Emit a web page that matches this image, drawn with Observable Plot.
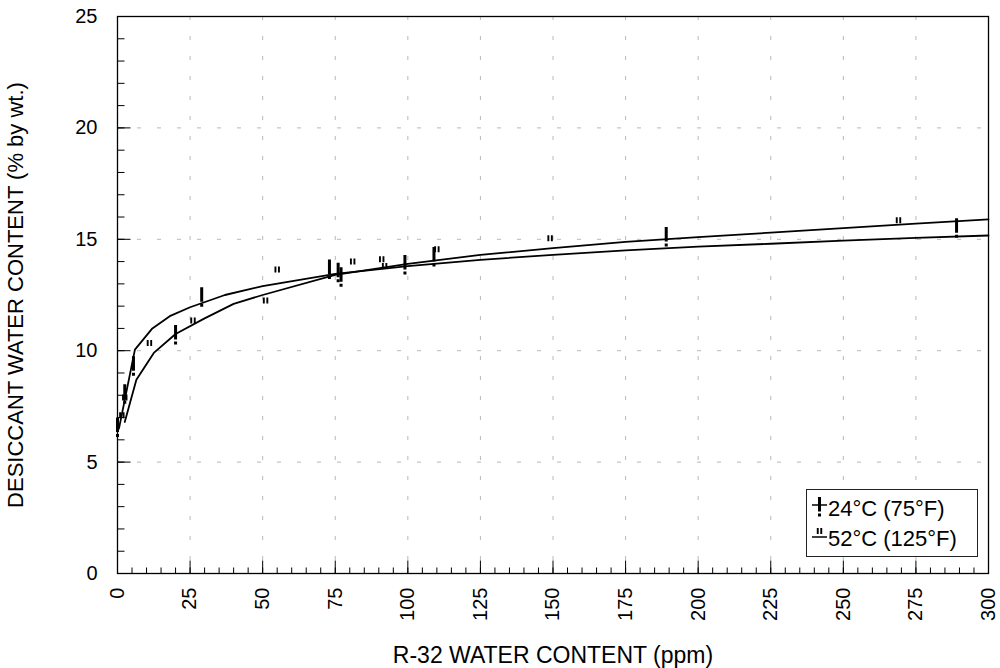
<!DOCTYPE html>
<html><head><meta charset="utf-8">
<script src="https://cdn.jsdelivr.net/npm/d3@7"></script>
<script src="https://cdn.jsdelivr.net/npm/@observablehq/plot@0.6"></script>
<style>
body{margin:0;background:#fff;font-family:"Liberation Sans",Arial,sans-serif;}
#wrap{position:relative;width:1000px;height:668px;}
#legend{position:absolute;left:806px;top:489px;}
</style></head><body><div id="wrap"></div>
<script>
// Measured points, 24°C (75°F)
const x24 = [0, 2.5, 5.5, 20, 29, 73, 76, 77, 99, 109, 189, 289];
const y24 = [6.55, 8.05, 9.3, 10.7, 12.4, 13.65, 13.5, 13.3, 13.85, 14.2, 15.1, 15.5];
// Measured points, 52°C (125°F)
const x52 = [1.5, 2.5, 11, 26, 51, 55, 81, 91, 92, 110, 149, 269];
const y52 = [7.1, 7.9, 10.35, 11.35, 12.25, 13.65, 14.0, 14.1, 13.8, 14.55, 15.05, 15.85];
// Fitted curves
const fitX24 = [0.5, 6, 12, 18, 25, 37, 50, 75, 100, 125, 150, 175, 200, 225, 250, 275, 300];
const fitY24 = [6.5, 10.05, 11.0, 11.55, 11.95, 12.5, 12.9, 13.45, 13.8, 14.08, 14.3, 14.5, 14.67, 14.8, 14.94, 15.06, 15.17];
const fitX52 = [2.5, 6.5, 12.5, 20, 30, 40, 50, 75, 100, 125, 150, 175, 200, 225, 250, 275, 300];
const fitY52 = [6.8, 8.7, 9.9, 10.75, 11.45, 12.1, 12.5, 13.4, 13.9, 14.3, 14.6, 14.88, 15.1, 15.3, 15.5, 15.7, 15.89];
// Ticks
const xMajor = [0, 25, 50, 75, 100, 125, 150, 175, 200, 225, 250, 275, 300];
const yMajor = [0, 5, 10, 15, 20, 25];
const xMinor = d3.range(0, 301, 5);
const yMinor = d3.range(0, 26, 1);
const legendLabels = ["24°C (75°F)", "52°C (125°F)"];
const xLabel = "R-32 WATER CONTENT (ppm)";
const yLabel = "DESICCANT WATER CONTENT (% by wt.)";

const pts24 = x24.map((x, i) => ({x, y: y24[i]}));
const pts52 = x52.map((x, i) => ({x, y: y52[i]}));
const fit24 = fitX24.map((x, i) => ({x, y: fitY24[i]}));
const fit52 = fitX52.map((x, i) => ({x, y: fitY52[i]}));

// marker glyphs
const bang = {draw(ctx) { ctx.rect(-1.5, -10, 3, 14.5); ctx.rect(-1.5, 6.5, 3, 3); }};
const dquote = {draw(ctx) { ctx.rect(-2.7, -3, 1.9, 6); ctx.rect(0.8, -3, 1.9, 6); }};
// inward tick shapes
const tickRight = (L) => ({draw(ctx) { ctx.moveTo(0, 0); ctx.lineTo(L, 0); }});
const tickUp = (L) => ({draw(ctx) { ctx.moveTo(0, 0); ctx.lineTo(0, -L); }});

const FONT = '"Liberation Sans", Arial, sans-serif';

const chart = Plot.plot({
  width: 1000, height: 668,
  marginLeft: 117, marginRight: 12, marginTop: 16, marginBottom: 95,
  style: {fontFamily: FONT, fontSize: "20px", color: "black", background: "white"},
  x: {domain: [0, 300]},
  y: {domain: [0, 25]},
  marks: [
    Plot.gridX({ticks: xMajor.slice(1, -1), stroke: "#b8b8b8", strokeOpacity: 1, strokeDasharray: "4,16"}),
    Plot.gridY({ticks: yMajor.slice(1, -1), stroke: "#b8b8b8", strokeOpacity: 1, strokeDasharray: "4,16"}),
    // inward minor / major ticks
    Plot.dot(xMinor, {x: d => d, frameAnchor: "bottom", symbol: tickUp(6), stroke: "black", strokeWidth: 1, fill: "none"}),
    Plot.dot(xMajor, {x: d => d, frameAnchor: "bottom", symbol: tickUp(13), stroke: "black", strokeWidth: 1, fill: "none"}),
    Plot.dot(yMinor, {y: d => d, frameAnchor: "left", symbol: tickRight(7), stroke: "black", strokeWidth: 1, fill: "none"}),
    Plot.dot(yMajor, {y: d => d, frameAnchor: "left", symbol: tickRight(13), stroke: "black", strokeWidth: 1, fill: "none"}),
    Plot.axisX({ticks: xMajor, tickSize: 0, tickPadding: 14, tickRotate: -90, fontSize: 20,
      label: null}),
    Plot.axisY({ticks: yMajor, tickSize: 0, tickPadding: 20, fontSize: 20,
      label: null}),
    Plot.axisX({ticks: [], tickSize: 0, fontSize: 23,
      label: xLabel, labelAnchor: "center", labelOffset: 89, labelArrow: "none"}),
    Plot.axisY({ticks: [], tickSize: 0, fontSize: 22,
      label: yLabel, labelAnchor: "center", labelOffset: 110, labelArrow: "none"}),
    Plot.line(fit24, {x: "x", y: "y", stroke: "black", strokeWidth: 1.8}),
    Plot.line(fit52, {x: "x", y: "y", stroke: "black", strokeWidth: 1.8}),
    Plot.dot(pts24, {x: "x", y: "y", symbol: bang, fill: "black", stroke: "none"}),
    Plot.dot(pts52, {x: "x", y: "y", symbol: dquote, fill: "black", stroke: "none"}),
    Plot.frame({stroke: "black", strokeWidth: 1.3})
  ]
});
document.getElementById("wrap").appendChild(chart);

// Legend (HTML/SVG overlay, inside plot area)
const lg = d3.select("#wrap").append("svg").attr("id", "legend")
  .attr("width", 172).attr("height", 68)
  .style("font-family", FONT).style("font-size", "22px");
lg.append("rect").attr("x", 0.5).attr("y", 0.5).attr("width", 171).attr("height", 67)
  .attr("fill", "white").attr("stroke", "#222").attr("stroke-width", 1);
// row 1
lg.append("line").attr("x1", 6).attr("x2", 21).attr("y1", 16).attr("y2", 16).attr("stroke", "black").attr("stroke-width", 1.5);
lg.append("path").attr("d", d3.symbol(bang)()).attr("transform", "translate(13.5,18)").attr("fill", "black");
lg.append("text").attr("x", 22).attr("y", 27).text(legendLabels[0]);
// row 2
lg.append("line").attr("x1", 6).attr("x2", 21).attr("y1", 48).attr("y2", 48).attr("stroke", "black").attr("stroke-width", 1.5);
lg.append("path").attr("d", d3.symbol(dquote)()).attr("transform", "translate(13.5,42)").attr("fill", "black");
lg.append("text").attr("x", 22).attr("y", 57).text(legendLabels[1]);
</script>
</body></html>
